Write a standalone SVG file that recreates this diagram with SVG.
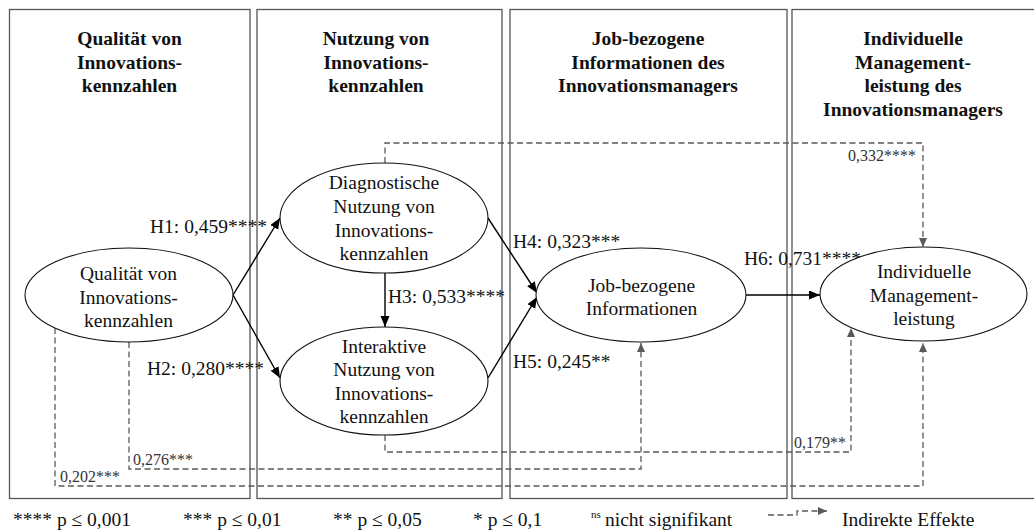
<svg xmlns="http://www.w3.org/2000/svg" width="1034" height="530" viewBox="0 0 1034 530">
  <style>
    .panel { fill: none; stroke: #555; stroke-width: 1.3; }
    .hdr { font-family: "Liberation Serif", "Times New Roman", serif; font-size: 19.5px; font-weight: bold; fill: #111; text-anchor: middle; }
    .node ellipse { fill: #fff; stroke: #111; stroke-width: 1.1; }
    .node text { font-family: "Liberation Serif", "Times New Roman", serif; font-size: 19.5px; fill: #111; text-anchor: middle; }
    .lbl { font-family: "Liberation Serif", "Times New Roman", serif; font-size: 19.5px; fill: #111; }
    .dlbl { font-family: "Liberation Serif", "Times New Roman", serif; font-size: 16px; fill: #333; }
    .solid { fill: none; stroke: #000; stroke-width: 1.4; marker-end: url(#ah); }
    .dash { fill: none; stroke: #5a5a5a; stroke-width: 1.3; stroke-dasharray: 6 3.5; marker-end: url(#ahg); }
    .leg { font-family: "Liberation Serif", "Times New Roman", serif; font-size: 19.5px; fill: #111; }
    .sup { font-family: "Liberation Serif", "Times New Roman", serif; font-size: 11px; fill: #111; }
  </style>
  <defs>
    <marker id="ah" markerUnits="userSpaceOnUse" markerWidth="12" markerHeight="10" refX="11" refY="4.5" orient="auto">
      <path d="M0,0 L11,4.5 L0,9 z" fill="#000"/>
    </marker>
    <marker id="ahg" markerUnits="userSpaceOnUse" markerWidth="10" markerHeight="9" refX="9" refY="4" orient="auto">
      <path d="M0,0 L9,4 L0,8 z" fill="#5a5a5a"/>
    </marker>
  </defs>
  <rect width="1034" height="530" fill="#fff"/>

  <!-- column frames -->
  <g id="panels">
    <rect class="panel" x="9.5" y="9.5" width="240.5" height="489"/>
    <rect class="panel" x="257" y="9.5" width="245" height="489"/>
    <rect class="panel" x="510" y="9.5" width="277" height="489"/>
    <rect class="panel" x="792" y="9.5" width="260" height="489"/>
  </g>

  <!-- column headings -->
  <g id="headers">
    <text class="hdr" x="129.5" y="45">Qualität von</text>
    <text class="hdr" x="129.5" y="68.5">Innovations-</text>
    <text class="hdr" x="129.5" y="92">kennzahlen</text>
    <text class="hdr" x="376" y="45">Nutzung von</text>
    <text class="hdr" x="376" y="68.5">Innovations-</text>
    <text class="hdr" x="376" y="92">kennzahlen</text>
    <text class="hdr" x="648" y="45">Job-bezogene</text>
    <text class="hdr" x="648" y="68.5">Informationen des</text>
    <text class="hdr" x="648" y="92">Innovationsmanagers</text>
    <text class="hdr" x="913" y="45">Individuelle</text>
    <text class="hdr" x="913" y="68.5">Management-</text>
    <text class="hdr" x="913" y="92">leistung des</text>
    <text class="hdr" x="913" y="115.5">Innovationsmanagers</text>
  </g>

  <!-- paths -->
  <g id="connectors">
    <line class="solid" x1="233" y1="295" x2="280" y2="218"/>
    <line class="solid" x1="233" y1="295" x2="280" y2="378"/>
    <line class="solid" x1="385" y1="273" x2="385" y2="327"/>
    <line class="solid" x1="488" y1="218" x2="537" y2="293"/>
    <line class="solid" x1="488" y1="378" x2="537" y2="297"/>
    <line class="solid" x1="746" y1="295" x2="820" y2="295"/>
    <path class="dash" d="M385,163 V143 H923 V247"/>
    <path class="dash" d="M55,328 V486 H923 V343"/>
    <path class="dash" d="M129,342 V469 H641 V343"/>
    <path class="dash" d="M385,435 V452 H851 V328"/>
  </g>

  <g id="edge-labels">
    <text class="lbl" x="150" y="233">H1: 0,459****</text>
    <text class="lbl" x="147" y="375">H2: 0,280****</text>
    <text class="lbl" x="388" y="303">H3: 0,533****</text>
    <text class="lbl" x="513" y="248">H4: 0,323***</text>
    <text class="lbl" x="513" y="368">H5: 0,245**</text>
    <text class="lbl" x="744" y="265">H6: 0,731****</text>
    <text class="dlbl" x="916" y="161" text-anchor="end">0,332****</text>
    <text class="dlbl" x="60" y="482">0,202***</text>
    <text class="dlbl" x="133" y="465">0,276***</text>
    <text class="dlbl" x="794" y="448">0,179**</text>
  </g>

  <!-- constructs -->
  <g id="n-qualitaet" class="node">
    <ellipse cx="129" cy="295" rx="104" ry="47"/>
    <text x="128.5" y="280">Qualität von</text>
    <text x="128.5" y="303.5">Innovations-</text>
    <text x="128.5" y="327">kennzahlen</text>
  </g>
  <g id="n-diagnostisch" class="node">
    <ellipse cx="384" cy="218" rx="104" ry="55"/>
    <text x="384" y="189">Diagnostische</text>
    <text x="384" y="213">Nutzung von</text>
    <text x="384" y="237">Innovations-</text>
    <text x="384" y="260">kennzahlen</text>
  </g>
  <g id="n-interaktiv" class="node">
    <ellipse cx="384" cy="381" rx="104" ry="54"/>
    <text x="384" y="353">Interaktive</text>
    <text x="384" y="376">Nutzung von</text>
    <text x="384" y="399.5">Innovations-</text>
    <text x="384" y="422.5">kennzahlen</text>
  </g>
  <g id="n-information" class="node">
    <ellipse cx="641" cy="295" rx="105" ry="47"/>
    <text x="641.5" y="291.5">Job-bezogene</text>
    <text x="641.5" y="315">Informationen</text>
  </g>
  <g id="n-leistung" class="node">
    <ellipse cx="923.5" cy="294" rx="103.5" ry="47"/>
    <text x="924" y="278">Individuelle</text>
    <text x="924" y="301.5">Management-</text>
    <text x="924" y="325">leistung</text>
  </g>

  <!-- key -->
  <g id="legend">
    <text class="leg" x="13" y="526">**** p ≤ 0,001</text>
    <text class="leg" x="183" y="526">*** p ≤ 0,01</text>
    <text class="leg" x="333" y="526">** p ≤ 0,05</text>
    <text class="leg" x="473" y="526">* p ≤ 0,1</text>
    <text class="sup" x="591" y="518">ns</text>
    <text class="leg" x="605" y="526">nicht signifikant</text>
    <path class="dash" d="M768,515 H797 V511 H827"/>
    <text class="leg" x="842" y="526">Indirekte Effekte</text>
  </g>
</svg>
